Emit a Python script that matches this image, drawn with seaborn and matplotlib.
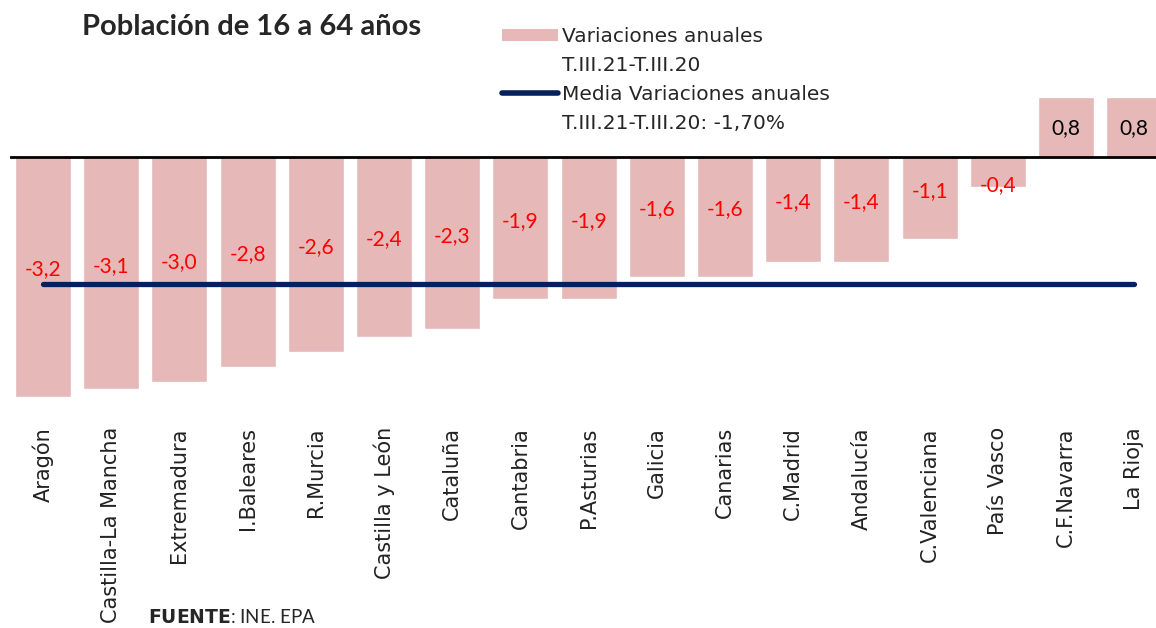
import matplotlib
matplotlib.use("Agg")
import matplotlib.pyplot as plt
import seaborn as sns
import pandas as pd
from matplotlib.patches import Patch
from matplotlib.lines import Line2D

# Población de 16 a 64 años, variación anual T.III.21-T.III.20 (%)
regiones = ["Aragón", "Castilla-La Mancha", "Extremadura", "I.Baleares", "R.Murcia",
            "Castilla y León", "Cataluña", "Cantabria", "P.Asturias", "Galicia",
            "Canarias", "C.Madrid", "Andalucía", "C.Valenciana", "País Vasco",
            "C.F.Navarra", "La Rioja"]
variaciones = [-3.2, -3.1, -3.0, -2.8, -2.6, -2.4, -2.3, -1.9, -1.9, -1.6,
               -1.6, -1.4, -1.4, -1.1, -0.4, 0.8, 0.8]
media = -1.70

df = pd.DataFrame({"region": regiones, "var": variaciones})

sns.set_style("white")
plt.rcParams["font.family"] = ["Lato", "DejaVu Sans"]

fig = plt.figure(figsize=(11.56, 6.28), dpi=100)
ax = fig.add_axes([10 / 1156, 1 - 405 / 628, 1 - 10 / 1156, 405 / 628])

sns.barplot(data=df, x="region", y="var", color="#e6b8b7", saturation=1,
            width=0.82, ax=ax)

ax.axhline(0, color="black", lw=2, zorder=3)
ax.hlines(media, 0, len(regiones) - 1, color="#04215e", lw=3.8,
          capstyle="round", zorder=4)

for i, v in enumerate(variaciones):
    if v < 0:
        y = v / 2 + 0.1 if v < -0.5 else v + 0.02
        ax.text(i, y, f"{v:.1f}".replace(".", ","), color="red", ha="center",
                va="center", fontsize=15, zorder=5)
    else:
        ax.text(i, v / 2 - 0.02, f"{v:.1f}".replace(".", ","), color="black",
                ha="center", va="center", fontsize=15, zorder=5)

ax.set_xlim(-0.484, 16.32)
ax.set_ylim(-3.307, 2.093)
ax.set_yticks([])
ax.set_xlabel("")
ax.set_ylabel("")
ax.tick_params(axis="x", length=0, pad=16)
ax.set_xticks(range(len(regiones)))
ax.set_xticklabels(regiones, rotation=90, fontsize=15, va="top",
                   family=["DejaVu Sans"], color="#222222")
sns.despine(ax=ax, left=True, bottom=True, top=True, right=True)

fig.text(82 / 1156, 1 - 27 / 628, "Población de 16 a 64 años", fontsize=21,
         fontweight="bold", ha="left", va="center",
         family=["Lato", "DejaVu Sans"])

handles = [Patch(facecolor="#e6b8b7", edgecolor="none"),
           Line2D([], [], alpha=0),
           Line2D([], [], color="#04215e", lw=4, solid_capstyle="round"),
           Line2D([], [], alpha=0)]
labels = ["Variaciones anuales", "T.III.21-T.III.20",
          "Media Variaciones anuales", "T.III.21-T.III.20: -1,70%"]
fig.legend(handles, labels, loc="upper left",
           bbox_to_anchor=(502 / 1156, 1 - 27 / 628), frameon=False,
           handlelength=2.8, handleheight=0.6, handletextpad=0.2,
           labelspacing=0.5, borderpad=0, borderaxespad=0,
           prop={"family": ["DejaVu Sans"], "size": 14.5})

fig.text(148 / 1156, 1 - 617 / 628, r"$\bf{FUENTE}$: INE. EPA", fontsize=13.5,
         ha="left", va="center")

fig.savefig("out.png", dpi=100)
